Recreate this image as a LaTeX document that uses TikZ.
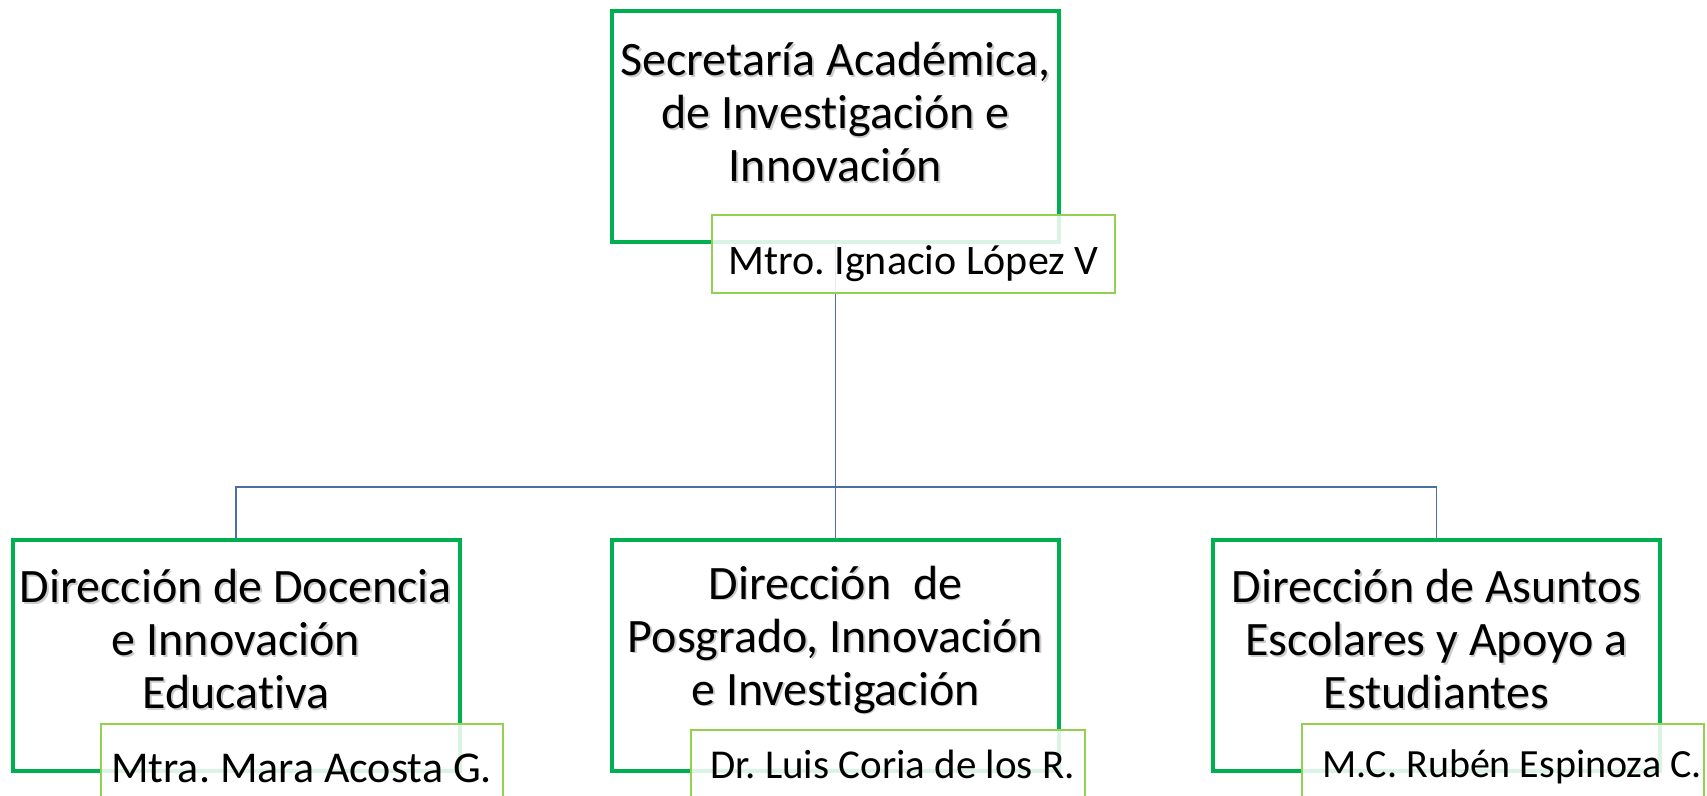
\documentclass[tikz,border=0pt]{standalone}
\usepackage{fontspec}
\setmainfont{Carlito}[Ligatures=NoCommon]
\usetikzlibrary{positioning}
\definecolor{framegreen}{HTML}{00B050}
\definecolor{namegreen}{HTML}{92D050}
\definecolor{wireblue}{HTML}{4A6FA5}
\frenchspacing

% title of a box, with its soft shadow behind it
\newcommand\boxtitle[3]{%
  \node[title, text=black!20] (#1-s) at ([shift={(0.8pt,-0.8pt)}]#1.center) [yshift=#2] {#3};
  \node[title] (#1-t) at (#1.center) [yshift=#2] {#3};}

\begin{document}
\begin{tikzpicture}[x=0.5pt,y=-0.5pt]
  \tikzset{
    unit/.style={draw=framegreen, line width=2pt, minimum width=223.5pt, minimum height=115.5pt, inner sep=0pt},
    title/.style={align=center, font=\fontsize{24}{26.5}\selectfont},
    persona/.style={draw=namegreen, line width=1pt, fill=white, fill opacity=0.85, text opacity=1,
      anchor=north west, minimum height=39pt, text depth=0pt, inner sep=0pt},
    wire/.style={draw=wireblue, line width=0.8pt},
  }
  \clip (0,0) rectangle (1707,796);

  % Top: the secretariat
  \node[unit] (sec) at (835.5,126.5) {};
  \boxtitle{sec}{7pt}{Secretaría Académica,\\de Investigación e\\Innovación}

  % The three directorates
  \node[unit] (ddoc) at (236,655.5) {};
  \node[unit] (dpos) at (835.5,655.5) {};
  \node[unit] (dase) at (1436.5,655.5) {};
  \boxtitle{ddoc}{8pt}{Dirección de Docencia\\e Innovación\\Educativa}
  \boxtitle{dpos}{8pt}{Dirección\ \ de\\Posgrado, Innovación\\e Investigación}
  \boxtitle{dase}{8pt}{Dirección de Asuntos\\Escolares y Apoyo a\\Estudiantes}

  % Connectors
  \coordinate (bus) at (835.5,487);
  \draw[wire] (sec.south) -- (dpos.north);
  \draw[wire] (ddoc.north) |- (bus) -| (dase.north);

  % Name tags, on top of the boxes
  \node[persona, minimum width=201.5pt, text height=21pt, font=\fontsize{21}{25}\selectfont] (sec-n)
    at ([shift={(101,-30)}]sec.south west) {Mtro. Ignacio López V};
  \node[persona, minimum width=201pt, text height=19pt, font=\fontsize{22}{26}\selectfont] (ddoc-n)
    at ([shift={(89,-50)}]ddoc.south west) {Mtra. Mara Acosta G.};
  \node[persona, minimum width=197pt, text height=9pt, font=\fontsize{20.5}{24}\selectfont] (dpos-n)
    at ([shift={(80,-44)}]dpos.south west) {\ Dr. Luis Coria de los R.};
  \node[persona, minimum width=201pt, text height=14pt, font=\fontsize{20}{24}\selectfont] (dase-n)
    at ([shift={(90,-50)}]dase.south west) {\ \ M.C. Rubén Espinoza C.};
\end{tikzpicture}
\end{document}
